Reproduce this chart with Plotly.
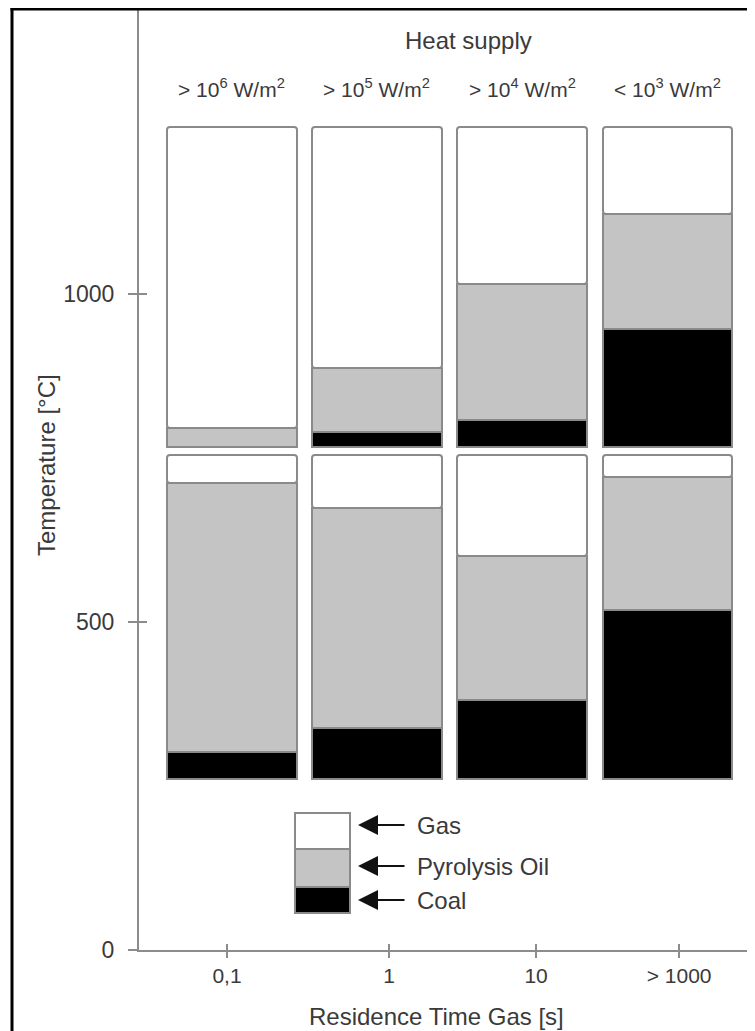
import plotly.graph_objects as go

# ---------------- data ----------------
heat_supply = ["> 10<sup>6</sup> W/m<sup>2</sup>", "> 10<sup>5</sup> W/m<sup>2</sup>",
               "> 10<sup>4</sup> W/m<sup>2</sup>", "< 10<sup>3</sup> W/m<sup>2</sup>"]
residence_labels = ["0,1", "1", "10", "> 1000"]
y_ticks = [0, 500, 1000]

# upper block (higher temperature level), segment heights in °C
upper_base = 767
upper_coal = [0, 23, 41, 180]
upper_oil = [29, 97, 207, 175]
upper_gas = [459, 368, 240, 133]

# lower block
lower_base = 261
lower_coal = [41, 77, 120, 257]
lower_oil = [410, 336, 220, 203]
lower_gas = [43, 81, 154, 34]

# ---------------- styling ----------------
FONT = "Liberation Sans, Arial, sans-serif"
TXT = "#3a3a3a"
AX = "#8c8c8c"
EDGE = "#8a8a8a"
GRAY = "#c4c4c4"
BLACK = "#000000"
WHITE = "#ffffff"

OFF = 8                      # page offset of the figure (body margin)
W, H = 747, 1023
L, R, T, B = 131, 5, 0, 81
PW = W - L - R
PH = H - T - B
YMAX = 1436
XR = [-0.641, 3.572]
BAR_W = 0.89
# residence-time tick positions (x axis units)
res_tick_pos = [-0.034, 1.083, 2.097, 3.083]


def px_x(px):
    """page x pixel -> paper coordinate"""
    return (px - OFF - L) / PW


def px_y(py):
    """page y pixel -> paper coordinate"""
    return (H - B - (py - OFF)) / PH


xs = list(range(len(heat_supply)))
fig = go.Figure()


def add_block(base, coal, oil, gas, name_sfx):
    b1 = [base] * len(xs)
    b2 = [b + c for b, c in zip(b1, coal)]
    b3 = [b + o for b, o in zip(b2, oil)]
    for vals, bases, col, nm, cr in [(coal, b1, BLACK, "Coal", 0),
                                     (oil, b2, GRAY, "Pyrolysis Oil", 0),
                                     (gas, b3, WHITE, "Gas", 3)]:
        fig.add_trace(go.Bar(
            x=xs, y=vals, base=bases, width=BAR_W, name=nm + name_sfx,
            marker=dict(color=col, line=dict(color=EDGE, width=2), cornerradius=cr),
            showlegend=False, hoverinfo="skip"))


add_block(upper_base, upper_coal, upper_oil, upper_gas, " (upper)")
add_block(lower_base, lower_coal, lower_oil, lower_gas, " (lower)")

# invisible helpers so the overlaid tick-only axes are drawn (crossing tick marks)
fig.add_trace(go.Scatter(x=[XR[0]], y=[0], xaxis="x2", yaxis="y", mode="markers",
                         marker=dict(opacity=0), showlegend=False, hoverinfo="skip"))
fig.add_trace(go.Scatter(x=[XR[0]], y=[0], xaxis="x", yaxis="y2", mode="markers",
                         marker=dict(opacity=0), showlegend=False, hoverinfo="skip"))

shapes = []
annotations = []

# frame lines (left and top)
shapes.append(dict(type="line", xref="paper", yref="paper",
                   x0=px_x(12), x1=px_x(12), y0=px_y(8), y1=px_y(1040),
                   line=dict(color="black", width=3)))
shapes.append(dict(type="line", xref="paper", yref="paper",
                   x0=px_x(10.5), x1=px_x(760), y0=px_y(9), y1=px_y(9),
                   line=dict(color="black", width=3)))

# legend boxes
leg = [(813, 849, WHITE), (849, 887, GRAY), (887, 913, BLACK)]
for y0, y1, c in leg:
    shapes.append(dict(type="rect", xref="paper", yref="paper",
                       x0=px_x(295), x1=px_x(350), y0=px_y(y1), y1=px_y(y0),
                       fillcolor=c, line=dict(color=EDGE, width=2)))

legend_names = ["Gas", "Pyrolysis Oil", "Coal"]
legend_y = [825, 866, 900]
for nm, yy in zip(legend_names, legend_y):
    annotations.append(dict(xref="paper", yref="paper", x=px_x(358), y=px_y(yy),
                            ax=48, ay=0, text="", showarrow=True,
                            arrowhead=2, arrowsize=2, arrowwidth=2,
                            arrowcolor="#111111"))
    annotations.append(dict(xref="paper", yref="paper", x=px_x(415), y=px_y(yy),
                            xanchor="left", yanchor="middle", text=nm,
                            showarrow=False, font=dict(family=FONT, size=24, color=TXT)))

# column headers
for i, lab in enumerate(heat_supply):
    annotations.append(dict(xref="x", yref="paper", x=i, y=px_y(88),
                            text=lab, showarrow=False, xanchor="center", yanchor="middle",
                            font=dict(family=FONT, size=21, color=TXT)))
annotations.append(dict(xref="paper", yref="paper", x=px_x(468), y=px_y(41),
                        xanchor="center", yanchor="middle",
                        text="Heat supply", showarrow=False,
                        font=dict(family=FONT, size=24, color=TXT)))

# axis titles
annotations.append(dict(xref="paper", yref="paper", x=px_x(46), y=px_y(465),
                        xanchor="center", yanchor="middle",
                        text="Temperature [°C]", textangle=-90, showarrow=False,
                        font=dict(family=FONT, size=24, color=TXT)))
annotations.append(dict(xref="paper", yref="paper", x=px_x(436), y=px_y(1016),
                        xanchor="center", yanchor="middle",
                        text="Residence Time Gas [s]", showarrow=False,
                        font=dict(family=FONT, size=24, color=TXT)))

fig.update_layout(
    width=W, height=H,
    margin=dict(l=L, r=R, t=T, b=B, pad=0),
    paper_bgcolor="white", plot_bgcolor="white",
    barmode="overlay", bargap=0,
    shapes=shapes, annotations=annotations,
    font=dict(family=FONT, color=TXT),
    xaxis=dict(range=XR, tickmode="array", tickvals=res_tick_pos, ticktext=residence_labels,
               showline=True, linecolor=AX, linewidth=2, ticks="outside", ticklen=6,
               tickwidth=2, tickcolor=AX, showgrid=False, zeroline=False,
               tickfont=dict(family=FONT, size=21, color=TXT), fixedrange=True),
    yaxis=dict(range=[0, YMAX], tickmode="array", tickvals=y_ticks,
               showline=True, linecolor=AX, linewidth=2, ticks="outside", ticklen=9,
               tickwidth=2, tickcolor=AX, showgrid=False, zeroline=False,
               ticklabelstandoff=9,
               tickfont=dict(family=FONT, size=23, color=TXT), fixedrange=True),
    xaxis2=dict(overlaying="x", anchor="y", side="bottom", range=XR, tickmode="array",
                tickvals=res_tick_pos,
                showticklabels=False, ticks="inside", ticklen=6, tickwidth=2, tickcolor=AX,
                showline=False, showgrid=False, zeroline=False, fixedrange=True),
    yaxis2=dict(overlaying="y", anchor="x", side="left", range=[0, YMAX], tickmode="array",
                tickvals=y_ticks, showticklabels=False, ticks="inside", ticklen=8,
                tickwidth=2, tickcolor=AX, showline=False, showgrid=False, zeroline=False,
                fixedrange=True),
)

fig.write_html("out.html")
